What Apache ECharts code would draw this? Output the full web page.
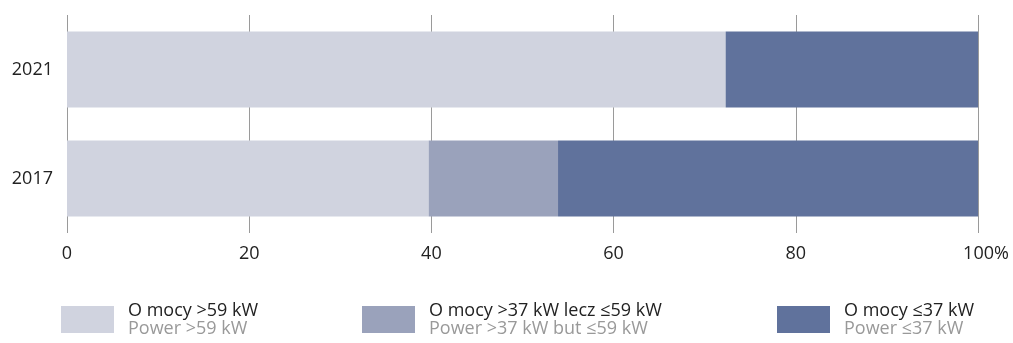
<!DOCTYPE html>
<html><head><meta charset="utf-8">
<script src="https://cdn.jsdelivr.net/npm/echarts@6/dist/echarts.min.js"></script>
<style>html,body{margin:0;padding:0;background:#fff}#c{width:1013px;height:343px}</style>
</head><body><div id="c"></div>
<script>
const categories = ['2021', '2017'];
const seriesNames = ['O mocy >59 kW', 'O mocy >37 kW lecz ≤59 kW', 'O mocy ≤37 kW'];
const seriesNamesEn = ['Power >59 kW', 'Power >37 kW but ≤59 kW', 'Power ≤37 kW'];
const above59 = [72.3, 39.7];
const between37and59 = [0, 14.2];
const upTo37 = [27.7, 46.1];
const xTickLabels = ['0', '20', '40', '60', '80', '100%'];

const colors = ['#d0d3df', '#9aa2bb', '#60729c'];
const FONT = 'Open Sans';
const values = [above59, between37and59, upTo37];
const legendLeft = [61, 362, 777];

const chart = echarts.init(document.getElementById('c'), null, {renderer: 'canvas'});
chart.setOption({
  animation: false,
  grid: {left: 67, right: 35, top: 15, bottom: 110, containLabel: false},
  xAxis: {
    type: 'value', min: 0, max: 100, interval: 20,
    axisLine: {show: false}, axisTick: {show: false},
    splitLine: {show: true, lineStyle: {color: '#9a9a9a', width: 1}},
    axisLabel: {
      color: '#222', fontFamily: FONT, fontSize: 18, margin: 12,
      formatter: v => {
        const s = xTickLabels[v / 20];
        return v === 100 ? '{p|' + s + '}' : s;
      },
      rich: {p: {color: '#222', fontFamily: FONT, fontSize: 18, padding: [0, 0, 0, 16]}}
    }
  },
  yAxis: {
    type: 'category', data: categories, inverse: true,
    axisLine: {show: false}, axisTick: {show: false},
    axisLabel: {color: '#222', fontFamily: FONT, fontSize: 18, margin: 14}
  },
  legend: seriesNames.map((n, i) => ({
    data: [n], left: legendLeft[i], top: 300, padding: 0,
    itemWidth: 53, itemHeight: 27, icon: 'rect',
    selectedMode: false,
    formatter: name => '{a|' + name + '}\n{b|' + seriesNamesEn[i] + '}',
    textStyle: {
      rich: {
        a: {color: '#222', fontFamily: FONT, fontSize: 18, lineHeight: 19, padding: [2, 0, 0, 9]},
        b: {color: '#999', fontFamily: FONT, fontSize: 18, lineHeight: 19, padding: [0, 0, 0, 9]}
      }
    }
  })),
  series: seriesNames.map((n, i) => ({
    name: n, type: 'bar', stack: 'total',
    barWidth: 76,
    itemStyle: {color: colors[i]},
    data: values[i]
  }))
});
</script></body></html>
